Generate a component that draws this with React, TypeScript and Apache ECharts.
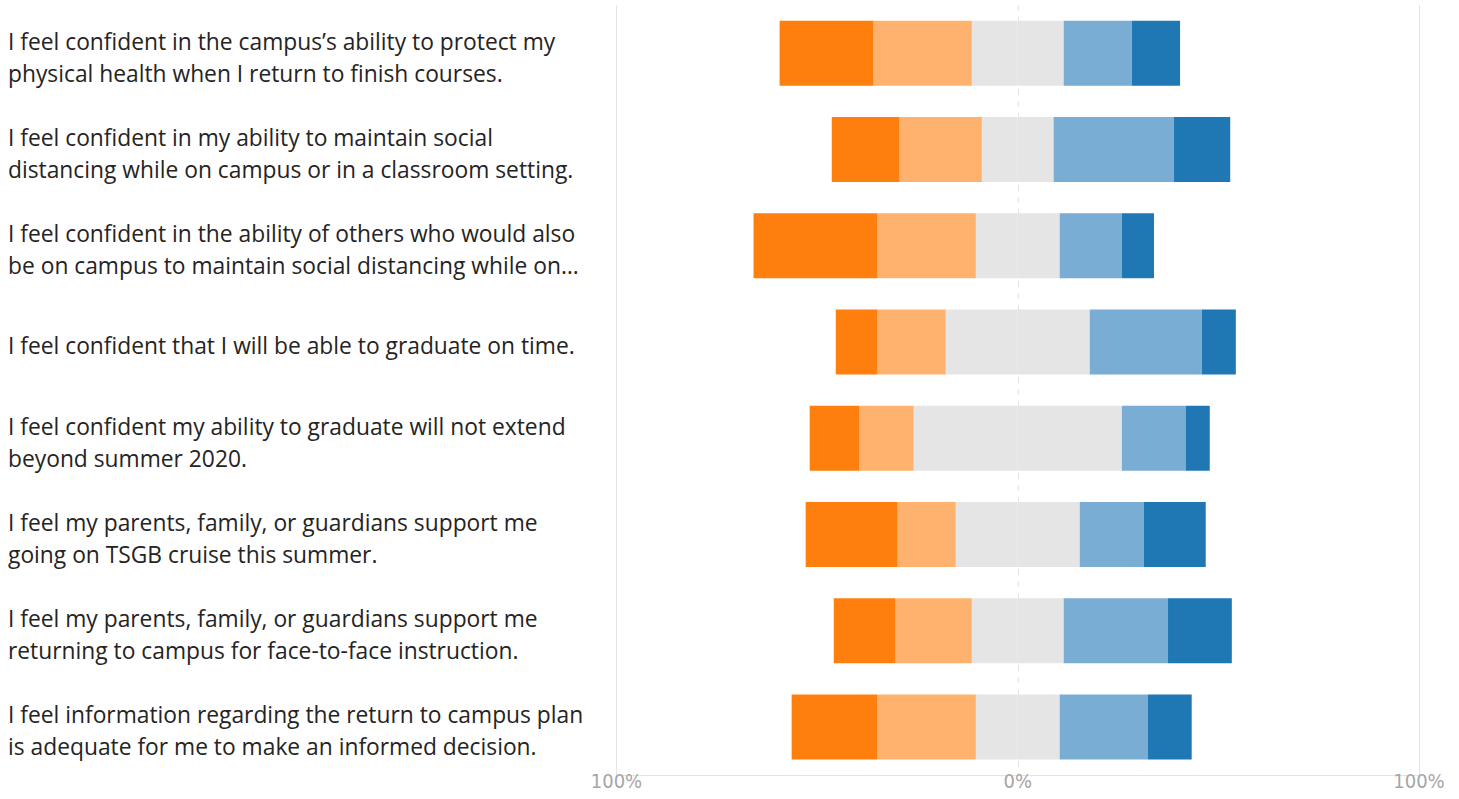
import React, { useEffect, useRef } from "react";
import * as echarts from "echarts";

const categories = [
  "I feel confident in the campus’s ability to protect my\nphysical health when I return to finish courses.",
  "I feel confident in my ability to maintain social\ndistancing while on campus or in a classroom setting.",
  "I feel confident in the ability of others who would also\nbe on campus to maintain social distancing while on…",
  "I feel confident that I will be able to graduate on time.",
  "I feel confident my ability to graduate will not extend\nbeyond summer 2020.",
  "I feel my parents, family, or guardians support me\ngoing on TSGB cruise this summer.",
  "I feel my parents, family, or guardians support me\nreturning to campus for face-to-face instruction.",
  "I feel information regarding the return to campus plan\nis adequate for me to make an informed decision.",
];

const stronglyDisagree = [23.4, 16.9, 30.9, 10.4, 12.4, 22.9, 15.4, 21.4];
const disagree = [24.5, 20.5, 24.5, 17.0, 13.5, 14.5, 19.0, 24.5];
const neutral = [22.9, 17.9, 20.9, 35.9, 51.9, 30.9, 22.9, 20.9];
const agree = [17.0, 30.0, 15.5, 27.9, 15.9, 16.0, 26.0, 22.0];
const stronglyAgree = [12.0, 14.0, 8.0, 8.5, 6.0, 15.4, 15.9, 10.9];

const xTicks = [-100, 0, 100];

const COLORS = {
  sd: "#ff7f0e",
  d: "#ffb26e",
  n: "#e5e5e5",
  a: "#7aadd4",
  sa: "#1f77b4",
};

export default function App() {
  const ref = useRef<HTMLDivElement>(null);
  useEffect(() => {
    if (!ref.current) return;
    const chart = echarts.init(ref.current, null, { renderer: "svg" });
    const bar = (name: string, data: number[], color: string) => ({
      name,
      type: "bar",
      stack: "likert",
      barWidth: 65,
      data,
      itemStyle: { color },
      emphasis: { disabled: true },
    });
    chart.setOption({
      animation: false,
      grid: { left: 616.5, right: 40, top: 5, bottom: 24, containLabel: false },
      xAxis: [
        {
          type: "value",
          min: -100,
          max: 100,
          interval: 100,
          axisLine: { show: true, lineStyle: { color: "#e4e4e4", width: 1 } },
          axisTick: { show: false },
          axisLabel: {
            formatter: (v: number) => (xTicks.includes(v) ? Math.abs(v) + "%" : ""),
            color: "#a6a6a6",
            fontSize: 20,
            fontFamily: "Liberation Sans Narrow, DejaVu Sans Condensed, sans-serif",
            margin: -4,
          },
          splitLine: { show: true, lineStyle: { color: "#e4e4e4", type: [6, 6], width: 1 } },
        },
        {
          type: "value",
          min: -100,
          max: 100,
          interval: 200,
          position: "bottom",
          axisLine: { show: false },
          axisTick: { show: false },
          axisLabel: { show: false },
          splitLine: { show: true, lineStyle: { color: "#e4e4e4", type: "solid", width: 1 } },
        },
      ],
      yAxis: {
        type: "category",
        inverse: true,
        data: categories,
        axisLine: { show: false },
        axisTick: { show: false },
        axisLabel: {
          align: "left",
          margin: 608.5,
          formatter: (v: string) =>
            "{s| }\n" + v.split("\n").map((l) => "{a|" + l + "}").join("\n"),
          rich: {
            s: { fontSize: 4, lineHeight: 8 },
            a: {
              fontSize: 22.8,
              lineHeight: 32,
              color: "#252423",
              fontFamily: "Open Sans, Noto Sans, sans-serif",
              align: "left",
            },
          },
        },
      },
      series: [
        bar("Neutral-", neutral.map((v) => -v / 2), COLORS.n),
        bar("Disagree", disagree.map((v) => -v), COLORS.d),
        bar("Strongly Disagree", stronglyDisagree.map((v) => -v), COLORS.sd),
        bar("Neutral+", neutral.map((v) => v / 2), COLORS.n),
        bar("Agree", agree, COLORS.a),
        bar("Strongly Agree", stronglyAgree, COLORS.sa),
      ],
    });
    return () => chart.dispose();
  }, []);
  return (
    <div
      ref={ref}
      style={{ position: "fixed", left: 0, top: 0, width: 1459, height: 799, background: "#fff" }}
    />
  );
}
